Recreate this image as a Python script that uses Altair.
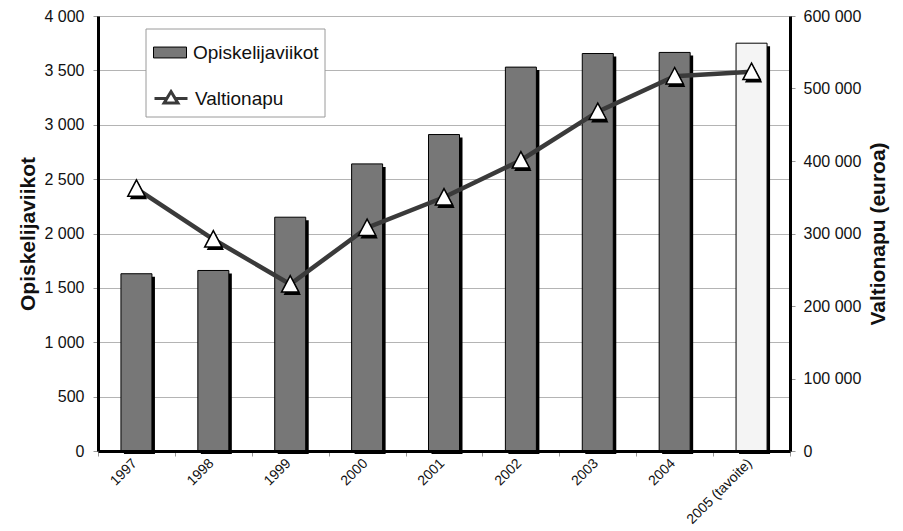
import altair as alt
import pandas as pd

years = ["1997", "1998", "1999", "2000", "2001", "2002", "2003", "2004", "2005 (tavoite)"]
weeks = [1630, 1660, 2150, 2640, 2910, 3530, 3655, 3665, 3750]
aid = [362000, 292000, 230000, 308000, 350000, 401000, 468000, 517000, 523000]
kinds = ["Opiskelijaviikot"] * 8 + ["tavoite"]
series = ["Valtionapu"] * 9

df = pd.DataFrame({"year": years, "weeks": weeks, "aid": aid, "kind": kinds, "series": series})

FONT = "Liberation Sans"
TRI = "M0,-1L1,0.9L-1,0.9Z"
NUM = "datum.value >= 1000 ? floor(datum.value / 1000) + ' ' + format(datum.value % 1000, '03d') : format(datum.value, 'd')"

x = alt.X(
    "year:N", sort=years,
    scale=alt.Scale(paddingInner=0, paddingOuter=0),
    axis=alt.Axis(title=None, labelAngle=-45, labelFontSize=14, labelFont=FONT, labelColor="#111",
                  tickBand="extent", tickColor="#999", tickSize=5, labelPadding=0, labelOffset=-7,
                  domainColor="black", domainWidth=3, zindex=1),
)

y_left = alt.Y(
    "weeks:Q", scale=alt.Scale(domain=[0, 4000], nice=False),
    axis=alt.Axis(values=list(range(0, 4001, 500)), labelExpr=NUM, title="Opiskelijaviikot",
                  titleFont=FONT, titleFontSize=21, titleFontWeight="bold", titleColor="#111",
                  titleX=-70, titleBaseline="middle", titleAngle=270,
                  labelFont=FONT, labelFontSize=16, labelColor="#111", labelPadding=9,
                  tickColor="#999", tickSize=5, domainColor="black", domainWidth=3,
                  grid=True, gridColor="#b4b4b4", gridWidth=1),
)

y_right = alt.Y(
    "aid:Q", scale=alt.Scale(domain=[0, 600000], nice=False),
    axis=alt.Axis(orient="right", values=list(range(0, 600001, 100000)), labelExpr=NUM,
                  title="Valtionapu (euroa)", titleFont=FONT, titleFontSize=21, titleFontWeight="bold",
                  titleColor="#111", titleX=88, titleBaseline="middle", titleAngle=270,
                  labelFont=FONT, labelFontSize=16, labelColor="#111", labelPadding=8,
                  tickColor="#999", tickSize=5, domainColor="black", domainWidth=3, grid=False),
)

leg_common = dict(title=None, orient="none", padding=0, labelFont=FONT, labelFontSize=19,
                  labelColor="#111", symbolSize=1089, labelOffset=6)

bar_legend = alt.Legend(legendX=55, legendY=19.5, values=["Opiskelijaviikot"],
                        symbolType="M-1,-0.33H1V0.33H-1Z", symbolStrokeColor="black",
                        symbolStrokeWidth=1, **leg_common)
line_legend = alt.Legend(legendX=55, legendY=64.5,
                         symbolType="M-1,0H-0.3M0.3,0H1M0,-0.42L0.42,0.28L-0.42,0.28Z",
                         symbolFillColor="white", symbolStrokeWidth=3, **leg_common)

fill_scale = alt.Scale(domain=["Opiskelijaviikot", "tavoite"], range=["#777777", "#f4f4f4"])
stroke_scale = alt.Scale(domain=["Valtionapu"], range=["#3a3a3a"])

base = alt.Chart(df)

box = alt.Chart(pd.DataFrame({"k": [0]})).mark_rect(fill="white", stroke="#9a9a9a", strokeWidth=1).encode(
    x=alt.value(48), x2=alt.value(227), y=alt.value(13), y2=alt.value(101))

bar_shadow = base.mark_bar(color="black", size=31, xOffset=3, yOffset=3).encode(x=x, y=y_left)
bars = base.mark_bar(size=31, stroke="black", strokeWidth=1, opacity=1).encode(
    x=x, y=y_left, fill=alt.Fill("kind:N", scale=fill_scale, legend=bar_legend))

line = base.mark_line(strokeWidth=4.5).encode(
    x=x, y=y_right, stroke=alt.Stroke("series:N", scale=stroke_scale, legend=line_legend))
pt_shadow = base.mark_point(shape=TRI, size=300, filled=True, color="black", opacity=1,
                            xOffset=2, yOffset=3).encode(x=x, y=y_right)
pts = base.mark_point(shape=TRI, size=300, filled=True, fill="white", stroke="black",
                      strokeWidth=1.5, opacity=1).encode(x=x, y=y_right)

left_layer = alt.layer(bar_shadow, bars)
right_layer = alt.layer(line, pt_shadow, pts)

chart = alt.layer(box, left_layer, right_layer).resolve_scale(y="independent").properties(
    width=692, height=435,
    autosize=alt.AutoSizeParams(type="none"),
    padding={"left": 90, "top": 8, "right": 105, "bottom": 80},
).configure_view(stroke="black", strokeWidth=3).configure(background="white")

chart.save("out.html", embed_options={"renderer": "svg", "actions": False})
